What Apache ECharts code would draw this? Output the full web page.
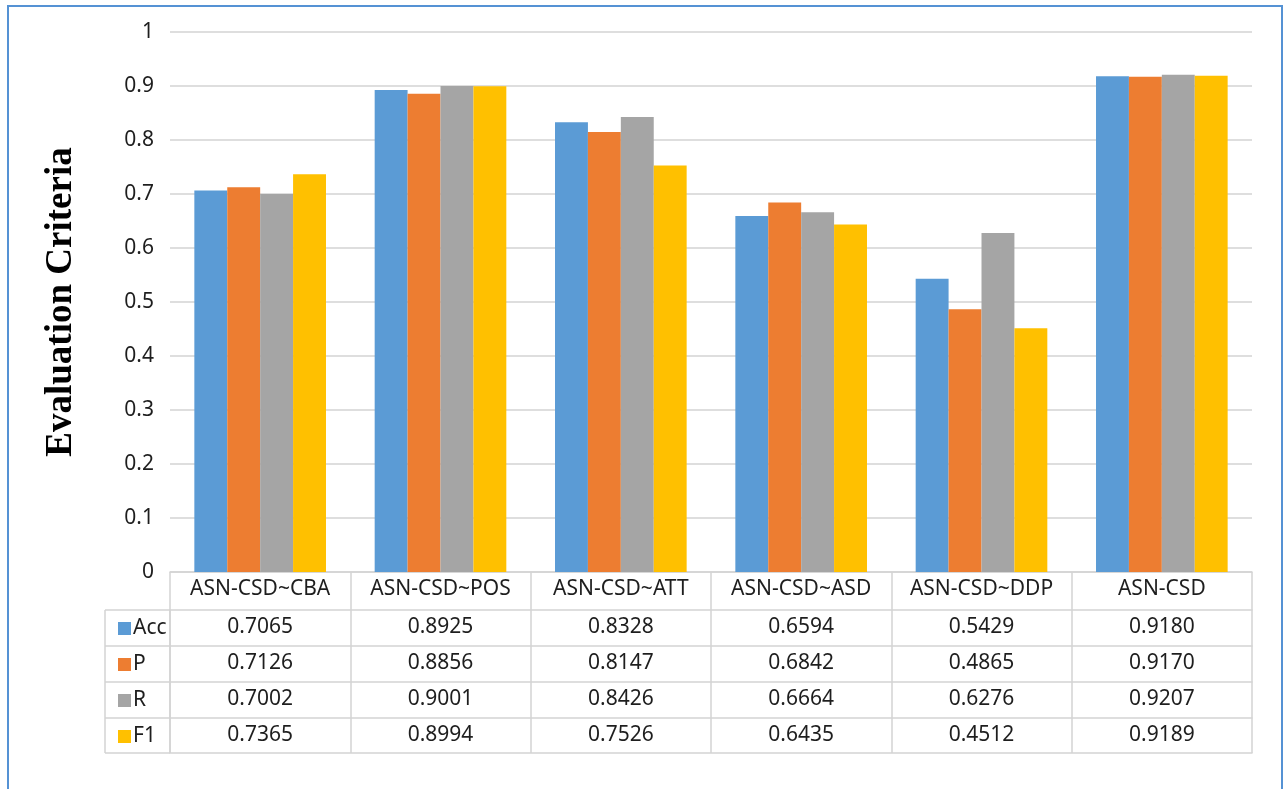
<!DOCTYPE html>
<html>
<head>
<meta charset="utf-8">
<script src="https://cdn.jsdelivr.net/npm/echarts@6/dist/echarts.min.js"></script>
<style>
html,body{margin:0;padding:0;background:#fff;}
#main{width:1288px;height:789px;}
</style>
</head>
<body>
<div id="main"></div>
<script>
var categories = ['ASN-CSD~CBA', 'ASN-CSD~POS', 'ASN-CSD~ATT', 'ASN-CSD~ASD', 'ASN-CSD~DDP', 'ASN-CSD'];
var seriesNames = ['Acc', 'P', 'R', 'F1'];
var accValues = [0.7065, 0.8925, 0.8328, 0.6594, 0.5429, 0.9180];
var pValues   = [0.7126, 0.8856, 0.8147, 0.6842, 0.4865, 0.9170];
var rValues   = [0.7002, 0.9001, 0.8426, 0.6664, 0.6276, 0.9207];
var f1Values  = [0.7365, 0.8994, 0.7526, 0.6435, 0.4512, 0.9189];
var colors = ['#5B9BD5', '#ED7D31', '#A5A5A5', '#FFC000'];
var yTitle = 'Evaluation Criteria';

var allValues = [accValues, pValues, rValues, f1Values];

var GRID_LEFT = 170, GRID_RIGHT = 36, GRID_TOP = 32, GRID_BOTTOM = 217;
var AXIS_Y = 789 - GRID_BOTTOM; // 572
var HEADER_H = 38, ROW_H = 36;
var HEAD_COL_LEFT = 105;
var lineColor = '#d3d3d3';
var textColor = '#1e1e1e';
var FS = 21;
var FONT = 'Noto Sans';

var xAxes = [{
  type: 'category',
  data: categories,
  position: 'bottom',
  axisLine: {show: true, lineStyle: {color: lineColor, width: 1.5}},
  axisTick: {show: true, interval: 0, length: HEADER_H + ROW_H * 4 - 1, lineStyle: {color: lineColor, width: 1.5}},
  axisLabel: {interval: 0, color: textColor, fontSize: FS, fontFamily: FONT, margin: 7}
}];
for (var i = 0; i < 4; i++) {
  (function (vals) {
    xAxes.push({
      type: 'category',
      data: categories,
      position: 'bottom',
      offset: HEADER_H + ROW_H * xAxes.length - ROW_H,
      axisLine: {show: true, lineStyle: {color: lineColor, width: 1.5}},
      axisTick: {show: false},
      axisLabel: {
        interval: 0, color: textColor, fontSize: FS, fontFamily: FONT, margin: 7,
        formatter: function (v, idx) { return vals[idx].toFixed(4); }
      }
    });
  })(allValues[i]);
}
xAxes.push({
  type: 'category',
  data: categories,
  position: 'bottom',
  offset: HEADER_H + ROW_H * 4 - 1,
  axisLine: {show: true, lineStyle: {color: lineColor, width: 1.5}},
  axisTick: {show: false},
  axisLabel: {show: false}
});

var series = seriesNames.map(function (n, i) {
  return {
    name: n,
    type: 'bar',
    data: allValues[i],
    xAxisIndex: 0,
    barGap: '0%',
    barCategoryGap: '27%',
    itemStyle: {color: colors[i]}
  };
});

// row-header column lines
var graphics = [];
var top0 = AXIS_Y + HEADER_H;
for (var r = 0; r <= 4; r++) {
  var y = top0 + ROW_H * r - (r === 4 ? 1 : 0);
  graphics.push({type: 'line', shape: {x1: HEAD_COL_LEFT, y1: y, x2: GRID_LEFT, y2: y},
    style: {stroke: lineColor, lineWidth: 1.5}, silent: true});
}
graphics.push({type: 'line', shape: {x1: HEAD_COL_LEFT, y1: top0, x2: HEAD_COL_LEFT, y2: top0 + ROW_H * 4 - 1},
  style: {stroke: lineColor, lineWidth: 1.5}, silent: true});
graphics.push({type: 'line', shape: {x1: GRID_LEFT, y1: top0, x2: GRID_LEFT, y2: top0 + ROW_H * 4 - 1},
  style: {stroke: lineColor, lineWidth: 1.5}, silent: true});
// outer frame
graphics.push({type: 'rect', shape: {x: 8, y: 6, width: 1274, height: 800},
  style: {fill: 'none', stroke: '#5592d4', lineWidth: 2}, silent: true});

var chart = echarts.init(document.getElementById('main'));
chart.setOption({
  animation: false,
  backgroundColor: '#fff',
  grid: {left: GRID_LEFT, right: GRID_RIGHT, top: GRID_TOP, bottom: GRID_BOTTOM},
  legend: {
    orient: 'vertical',
    left: 113,
    top: top0 + 3,
    itemWidth: 13,
    itemHeight: 13,
    itemGap: 15,
    icon: 'rect',
    data: seriesNames,
    selectedMode: false,
    textStyle: {color: textColor, fontSize: FS, fontFamily: FONT, lineHeight: 20, padding: [0, 0, 0, -3]}
  },
  xAxis: xAxes,
  yAxis: {
    type: 'value',
    min: 0, max: 1, interval: 0.1,
    name: yTitle,
    nameLocation: 'middle',
    nameRotate: 90,
    nameGap: 90,
    nameTextStyle: {fontFamily: 'Liberation Serif', fontWeight: 'bold', fontSize: 37, color: '#000'},
    axisLine: {show: false},
    axisTick: {show: false},
    axisLabel: {color: textColor, fontSize: FS, fontFamily: FONT, margin: 16},
    splitLine: {lineStyle: {color: lineColor, width: 1.5}}
  },
  series: series,
  graphic: graphics
});
</script>
</body>
</html>
